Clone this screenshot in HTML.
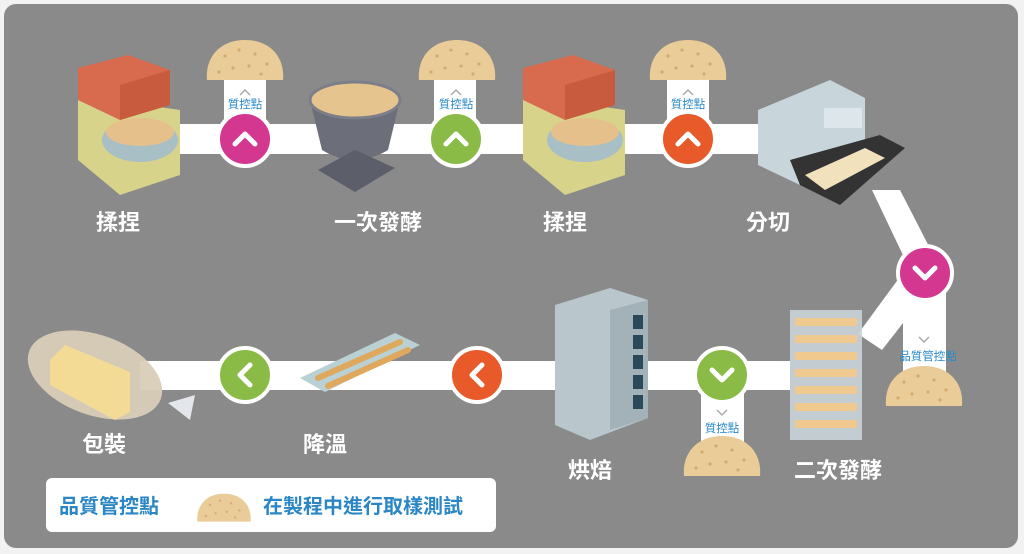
<!DOCTYPE html>
<html><head><meta charset="utf-8"><style>
html,body{margin:0;padding:0;background:#f2f2f2;}
svg{display:block}
text{font-family:"Liberation Sans","Noto Sans CJK TC",sans-serif;}
</style></head><body>
<svg width="1024" height="554" viewBox="0 0 1024 554" xmlns="http://www.w3.org/2000/svg">
<defs>
<g id="dough">
  <path d="M-38,18 C-40,-5 -25,-22 0,-22 C25,-22 40,-5 38,18 Z" fill="#e9cc98"/>
  <g fill="#d4ab6e"><circle cx="-20" cy="-6" r="1.6"/><circle cx="-6" cy="-12" r="1.6"/><circle cx="10" cy="-8" r="1.6"/><circle cx="22" cy="2" r="1.6"/><circle cx="-12" cy="6" r="1.6"/><circle cx="4" cy="4" r="1.6"/><circle cx="-26" cy="10" r="1.6"/><circle cx="16" cy="12" r="1.6"/></g>
</g>
<g id="up"><polyline points="-10,5 0,-5 10,5" fill="none" stroke="#fff" stroke-width="5" stroke-linecap="round" stroke-linejoin="round"/></g>
<g id="down"><polyline points="-10,-5 0,5 10,-5" fill="none" stroke="#fff" stroke-width="5" stroke-linecap="round" stroke-linejoin="round"/></g>
<g id="left"><polyline points="5,-10 -5,0 5,10" fill="none" stroke="#fff" stroke-width="5" stroke-linecap="round" stroke-linejoin="round"/></g>
</defs>
<rect x="4" y="4" width="1014" height="544" rx="12" fill="#8a8a8a"/>

<!-- bands -->
<rect x="175" y="124" width="590" height="30" fill="#fff"/>
<polygon points="872,190 900,190 937,262 911,272" fill="#fff"/>
<polygon points="905,270 935,282 882,350 858,334" fill="#fff"/>
<rect x="140" y="361" width="650" height="29" fill="#fff"/>

<!-- vertical strips -->
<rect x="224" y="70" width="42" height="70" fill="#fff"/>
<rect x="434" y="70" width="42" height="70" fill="#fff"/>
<rect x="667" y="70" width="42" height="70" fill="#fff"/>
<rect x="903" y="270" width="43" height="105" fill="#fff"/>
<rect x="701" y="375" width="43" height="75" fill="#fff"/>

<!-- doughs -->
<use href="#dough" transform="translate(245,62)"/>
<use href="#dough" transform="translate(457,62)"/>
<use href="#dough" transform="translate(688,62)"/>
<use href="#dough" transform="translate(924,388)"/>
<use href="#dough" transform="translate(722,458)"/>

<!-- QC labels -->
<g fill="#2a8ac8" font-size="11.5" text-anchor="middle">
<text x="245" y="108">質控點</text><text x="456" y="108">質控點</text><text x="688" y="108">質控點</text>
<text x="928" y="360">品質管控點</text><text x="722" y="432">質控點</text>
</g>
<g fill="none" stroke="#aaa" stroke-width="1.5">
<polyline points="240,95 245,90 250,95"/><polyline points="451,95 456,90 461,95"/><polyline points="683,95 688,90 693,95"/>
<polyline points="919,337 924,342 929,337"/><polyline points="717,410 722,415 727,410"/>
</g>

<!-- circles -->
<g stroke="#fff" stroke-width="4">
<circle cx="245" cy="139" r="27" fill="#d4378f"/>
<circle cx="456" cy="139" r="27" fill="#8bbb47"/>
<circle cx="688" cy="139" r="27" fill="#e95a2a"/>
<circle cx="925" cy="273" r="27" fill="#d4378f"/>
<circle cx="722" cy="375" r="27" fill="#8bbb47"/>
<circle cx="477" cy="375" r="27" fill="#e95a2a"/>
<circle cx="245" cy="375" r="27" fill="#8bbb47"/>
</g>
<use href="#up" transform="translate(245,139)"/><use href="#up" transform="translate(456,139)"/><use href="#up" transform="translate(688,139)"/>
<use href="#down" transform="translate(925,273)"/><use href="#down" transform="translate(722,375)"/>
<use href="#left" transform="translate(477,375)"/><use href="#left" transform="translate(245,375)"/>

<!-- mixers -->
<g id="mixer">
<polygon points="78,95 78,160 120,195 180,175 180,110" fill="#d8d38a"/>
<polygon points="78,68 128,55 170,70 170,105 120,120 78,100" fill="#d86a4e"/>
<polygon points="120,120 170,105 170,70 120,85" fill="#c85a3e"/>
<ellipse cx="140" cy="140" rx="38" ry="22" fill="#a9bfc6"/>
<ellipse cx="140" cy="132" rx="34" ry="14" fill="#e6c08a"/>
</g>
<use href="#mixer" transform="translate(445,0)"/>
<!-- bowl -->
<path d="M310,100 Q355,78 400,100 L388,150 Q355,170 322,150 Z" fill="#6c6e7a"/>
<ellipse cx="355" cy="100" rx="45" ry="18" fill="#e6c48e" stroke="#7c7e8a" stroke-width="3"/>
<polygon points="318,170 355,150 395,168 355,192" fill="#5c5e6a"/>
<!-- slicer -->
<polygon points="758,110 830,80 865,98 865,150 800,185 758,165" fill="#c8d6dc"/>
<polygon points="790,160 880,135 905,148 840,205 800,185" fill="#333"/>
<polygon points="805,175 865,148 885,158 825,190" fill="#f1e2bd"/>
<rect x="824" y="108" width="38" height="20" fill="#dde6ea"/>
<!-- rack -->
<rect x="790" y="310" width="72" height="130" fill="#c9d3d8" opacity="0.9"/>
<g fill="#f0c98e"><rect x="795" y="318" width="62" height="8"/><rect x="795" y="335" width="62" height="8"/><rect x="795" y="352" width="62" height="8"/><rect x="795" y="369" width="62" height="8"/><rect x="795" y="386" width="62" height="8"/><rect x="795" y="403" width="62" height="8"/><rect x="795" y="420" width="62" height="8"/></g>
<!-- oven -->
<polygon points="555,305 610,288 648,300 648,418 590,440 555,425" fill="#b9c7cc"/>
<polygon points="610,310 648,300 648,418 610,430" fill="#a3b2b8"/>
<g fill="#2a4a5a"><rect x="633" y="315" width="10" height="14"/><rect x="633" y="335" width="10" height="14"/><rect x="633" y="355" width="10" height="14"/><rect x="633" y="375" width="10" height="14"/><rect x="633" y="395" width="10" height="14"/></g>
<!-- cooling tray -->
<polygon points="300,378 395,333 420,345 325,392" fill="#b9d0d4"/>
<g stroke="#e0a85c" stroke-width="6" stroke-linecap="round"><line x1="318" y1="378" x2="400" y2="342"/><line x1="328" y1="386" x2="408" y2="350"/></g>
<!-- package -->
<ellipse cx="95" cy="375" rx="70" ry="40" fill="#d9cdb8" opacity="0.95" transform="rotate(20 95 375)"/>
<polygon points="50,360 65,345 130,372 130,412 115,420 50,385" fill="#f3db95"/>
<polygon points="168,403 195,395 190,420" fill="#e3e6ea"/>

<!-- step labels -->
<g fill="#fff" font-size="22" font-weight="bold" text-anchor="middle">
<text x="118" y="230">揉捏</text>
<text x="378" y="230">一次發酵</text>
<text x="565" y="230">揉捏</text>
<text x="768" y="230">分切</text>
<text x="104" y="452">包裝</text>
<text x="325" y="452">降溫</text>
<text x="590" y="478">烘焙</text>
<text x="838" y="478">二次發酵</text>
</g>

<!-- legend -->
<rect x="46" y="478" width="450" height="54" rx="6" fill="#fff"/>
<g fill="#2a86c4" font-size="20" font-weight="bold">
<text x="59" y="513">品質管控點</text>
<text x="263" y="513">在製程中進行取樣測試</text>
</g>
<use href="#dough" transform="translate(224,509) scale(0.7)"/>
</svg>
</body></html>
